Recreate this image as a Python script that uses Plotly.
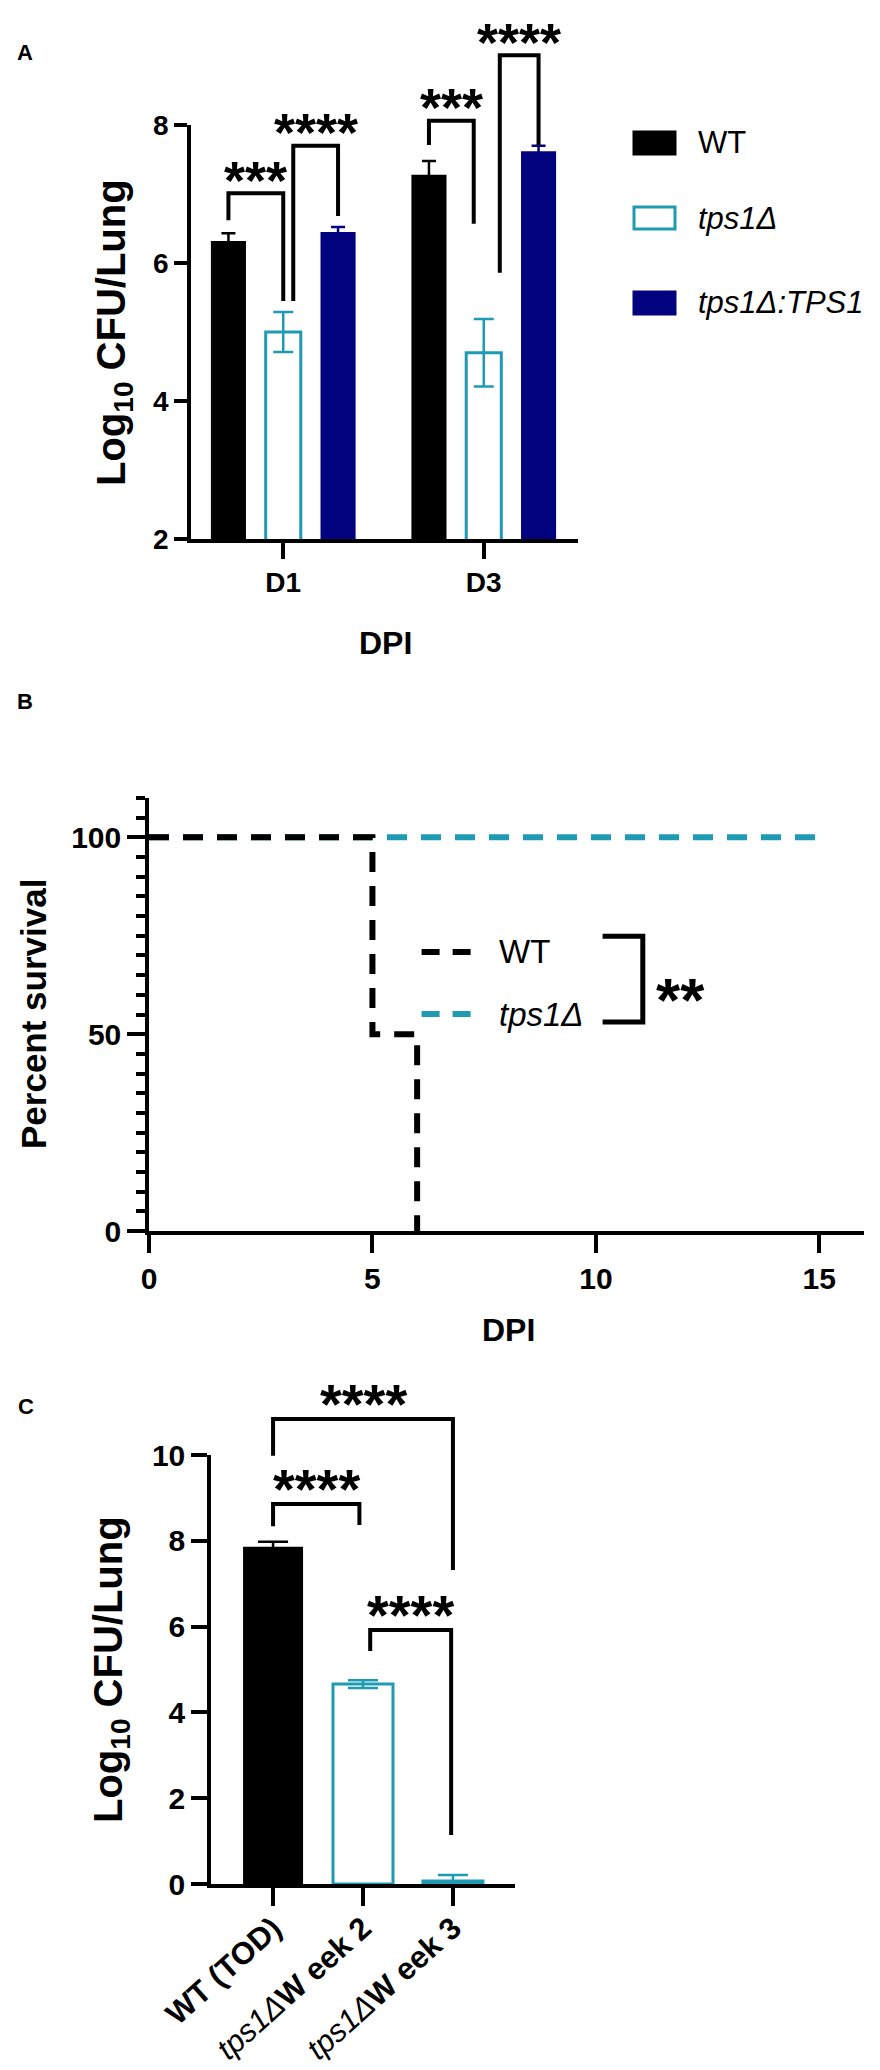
import plotly.graph_objects as go

W, H = 880, 2070
FONT = "Liberation Sans, Arial, Helvetica, sans-serif"
BLACK = "#000000"
TEAL = "#1f9ab3"
NAVY = "#03037f"

# ---- Panel A: lung burden at D1 / D3 ----
a_days = ["D1", "D3"]
a_wt = [6.32, 7.28]
a_wt_err = [0.11, 0.20]
a_tps1 = [5.00, 4.70]
a_tps1_err = [0.29, 0.49]
a_comp = [6.45, 7.62]
a_comp_err = [0.07, 0.08]
a_names = ["WT", "tps1Δ", "tps1Δ:TPS1"]
a_sig = ["***", "****", "***", "****"]

# ---- Panel B: survival ----
b_wt_dpi = [0, 5, 6]
b_wt_surv = [100, 50, 0]
b_tps1_dpi = [0, 15]
b_tps1_surv = [100, 100]
b_sig = "**"

# ---- Panel C: burden at time of death / weeks ----
c_groups = ["WT (TOD)", "tps1Δ Week 2", "tps1Δ Week 3"]
c_ticktext = ["<b>WT (TOD)</b>", "<i>tps1Δ</i><b>W eek 2</b>", "<i>tps1Δ</i><b>W eek 3</b>"]
c_values = [7.86, 4.66, 0.07]
c_err = [0.12, 0.09, 0.14]
c_sig = ["****", "****", "****"]


def px_x(p):
    return p / W


def px_y(p):
    return 1 - p / H


def helper_range(lo, hi, dom, top):
    # same scale as the data axis, stretched up to a higher domain top
    return [lo, lo + (hi - lo) * (top - dom[0]) / (dom[1] - dom[0])]


A_BARGAP = 0.18
A_GROUPGAP = 0.36
slot = (1 - A_BARGAP) / 3

a_xdom = [px_x(183), px_x(570)]
a_ydom = [px_y(531), px_y(117)]
b_xdom = [px_x(141), px_x(856)]
b_ydom = [px_y(1223), px_y(790)]
c_xdom = [px_x(203), px_x(507)]
c_ydom = [px_y(1876), px_y(1447)]

fig = go.Figure()

# Panel A bars
a_x = list(range(len(a_days)))
a_styles = [
    (a_wt, a_wt_err, BLACK, BLACK, 7),
    (a_tps1, a_tps1_err, "white", TEAL, 10),
    (a_comp, a_comp_err, NAVY, NAVY, 7),
]
for name, (vals, errs, fill, edge, cap) in zip(a_names, a_styles):
    fig.add_trace(go.Bar(
        x=a_x, y=vals, name=name, xaxis="x", yaxis="y",
        marker=dict(color=fill, line=dict(color=edge, width=3 if fill == "white" else 0)),
        error_y=dict(type="data", array=errs, color=edge, thickness=2.5, width=cap),
        showlegend=False, hoverinfo="skip"))
fig.add_trace(go.Scatter(x=[0], y=[2], mode="markers", marker=dict(opacity=0), xaxis="x", yaxis="y4",
                         showlegend=False, hoverinfo="skip"))

# Panel B curves (tps1Δ first so WT sits on top)
fig.add_trace(go.Scatter(x=b_tps1_dpi, y=b_tps1_surv, mode="lines", xaxis="x2", yaxis="y2",
                         line=dict(color=TEAL, width=6, dash="20px,14px", shape="hv"),
                         showlegend=False, hoverinfo="skip"))
fig.add_trace(go.Scatter(x=b_wt_dpi, y=b_wt_surv, mode="lines", xaxis="x2", yaxis="y2",
                         line=dict(color=BLACK, width=6, dash="20px,14px", shape="hv"),
                         showlegend=False, hoverinfo="skip"))

# Panel C bars
c_x = list(range(len(c_groups)))
c_fill = [BLACK, "white", "white"]
c_edge = [BLACK, TEAL, TEAL]
for i in c_x:
    fig.add_trace(go.Bar(
        x=[c_x[i]], y=[c_values[i]], name=c_groups[i], xaxis="x3", yaxis="y3",
        width=[0.667], offset=[-0.3335],
        marker=dict(color=c_fill[i], line=dict(color=c_edge[i], width=0 if i == 0 else 3)),
        error_y=dict(type="data", array=[c_err[i]], color=c_edge[i], thickness=2.5, width=15),
        showlegend=False, hoverinfo="skip"))
fig.add_trace(go.Scatter(x=[0], y=[0], mode="markers", marker=dict(opacity=0), xaxis="x3", yaxis="y5",
                         showlegend=False, hoverinfo="skip"))


def axis_style(**kw):
    d = dict(showline=True, linecolor=BLACK, linewidth=3.5, ticks="outside", tickcolor=BLACK,
             tickwidth=3.5, showgrid=False, zeroline=False, fixedrange=True, automargin=False,
             tickfont=dict(family=FONT, size=28, color=BLACK, weight="bold"))
    d.update(kw)
    return d


def helper_axis(**kw):
    d = dict(visible=False, fixedrange=True, automargin=False, showgrid=False, zeroline=False)
    d.update(kw)
    return d


shapes = []
annotations = []


def bracket(xref, yref, x1, x2, y1, ytop, y2, width=4):
    shapes.append(dict(type="path", xref=xref, yref=yref,
                       path=f"M {x1},{y1} L {x1},{ytop} L {x2},{ytop} L {x2},{y2}",
                       line=dict(color=BLACK, width=width)))


def stars(xref, yref, x, y, text, size):
    annotations.append(dict(xref=xref, yref=yref, x=x, y=y, text=text, showarrow=False,
                            xanchor="center", yanchor="middle", yshift=-0.23 * size,
                            font=dict(family=FONT, size=size, color=BLACK, weight="bold")))


def label(x, y, text, size, bold=True, angle=0, xanchor="center", italic=False):
    annotations.append(dict(xref="paper", yref="paper", x=px_x(x), y=px_y(y), text=text,
                            showarrow=False, xanchor=xanchor, yanchor="middle", textangle=angle,
                            borderpad=0,
                            font=dict(family=FONT, size=size, color=BLACK,
                                      weight="bold" if bold else "normal",
                                      style="italic" if italic else "normal")))


def bar_x(group, j):
    return group + (j - 1) * slot


# Panel A significance brackets
a_br = [
    (bar_x(0, 0), bar_x(0, 1), 6.62, 7.01, 5.45),
    (bar_x(0, 1) + 0.05, bar_x(0, 2), 5.45, 7.70, 6.68),
    (bar_x(1, 0), bar_x(1, 1) - 0.05, 7.71, 8.06, 6.57),
    (bar_x(1, 1) + 0.08, bar_x(1, 2), 5.86, 9.01, 7.71),
]
for (x1, x2, y1, yt, y2), s in zip(a_br, a_sig):
    bracket("x", "y4", x1, x2, y1, yt, y2)
    stars("x", "y4", (x1 + x2) / 2, yt + 0.38, s, 54)

# Panel A legend
a_leg_y = [135, 210, 295]
a_leg_fill = [BLACK, "white", NAVY]
a_leg_edge = [BLACK, TEAL, NAVY]
for yy, fill, edge, name in zip(a_leg_y, a_leg_fill, a_leg_edge, a_names):
    shapes.append(dict(type="rect", xref="paper", yref="paper",
                       x0=px_x(626), x1=px_x(667), y0=px_y(yy + 11), y1=px_y(yy - 11),
                       fillcolor=fill, line=dict(color=edge, width=3)))
    label(689, yy, name, 31, bold=False, xanchor="left", italic=(name != "WT"))

# Panel B legend + log-rank bracket
b_leg = [(70.9, BLACK, "WT", False), (55.1, TEAL, "tps1Δ", True)]
for yy, col, name, it in b_leg:
    shapes.append(dict(type="line", xref="x2", yref="y2", x0=6.1, x1=7.2, y0=yy, y1=yy,
                       line=dict(color=col, width=6, dash="18px,13px")))
    annotations.append(dict(xref="x2", yref="y2", x=7.8, y=yy, text=name, showarrow=False,
                            xanchor="left", yanchor="middle", borderpad=0,
                            font=dict(family=FONT, size=33, color=BLACK,
                                      style="italic" if it else "normal")))
shapes.append(dict(type="path", xref="x2", yref="y2",
                   path="M 10.15,74.9 L 11.05,74.9 L 11.05,53.1 L 10.15,53.1",
                   line=dict(color=BLACK, width=5)))
stars("x2", "y2", 11.9, 62.5, b_sig, 62)

# Panel C significance brackets
c_br = [
    (0.0, 2.0, 9.98, 10.84, 7.32),
    (0.0, 0.96, 8.34, 8.86, 8.37),
    (1.08, 1.98, 5.43, 5.92, 1.14),
]
for (x1, x2, y1, yt, y2), s in zip(c_br, c_sig):
    bracket("x3", "y5", x1, x2, y1, yt, y2)
    stars("x3", "y5", (x1 + x2) / 2, yt + 0.66, s, 56)

# Titles and panel letters
label(17, 45, "A", 22)
label(17, 693, "B", 22)
label(18, 1398, "C", 22)
label(106, 325, "Log<sub>10</sub> CFU/Lung", 40, angle=-90)
label(377, 635, "DPI", 32)
label(25, 1006, "Percent survival", 35, angle=-90)
label(500, 1322, "DPI", 32)
label(103, 1662, "Log<sub>10</sub> CFU/Lung", 40, angle=-90)

fig.update_layout(
    template="none",
    width=W, height=H, margin=dict(l=0, r=0, t=0, b=0, autoexpand=False),
    paper_bgcolor="white", plot_bgcolor="rgba(0,0,0,0)",
    font=dict(family=FONT, color=BLACK),
    barmode="group", bargap=A_BARGAP, bargroupgap=A_GROUPGAP, showlegend=False,
    xaxis=axis_style(domain=a_xdom, range=[-0.46, 1.47], anchor="y", tickmode="array",
                     tickvals=a_x, ticktext=a_days, ticklen=16),
    yaxis=axis_style(domain=a_ydom, range=[2, 8], anchor="x", tickmode="array",
                     tickvals=[2, 4, 6, 8], ticklen=13),
    yaxis4=helper_axis(domain=[a_ydom[0], 1.0], range=helper_range(2, 8, a_ydom, 1.0), anchor="x"),
    xaxis2=axis_style(domain=b_xdom, range=[0, 16], anchor="y2", tickmode="linear", dtick=5, tick0=0,
                      ticklen=18, tickfont=dict(family=FONT, size=30, color=BLACK, weight="bold")),
    yaxis2=axis_style(domain=b_ydom, range=[0, 110], anchor="x2", tickmode="linear", dtick=50, tick0=0,
                      ticklen=18, tickfont=dict(family=FONT, size=30, color=BLACK, weight="bold"),
                      minor=dict(dtick=5, tick0=0, ticklen=9, tickwidth=3.5,
                                 tickcolor=BLACK, ticks="outside", showgrid=False)),
    xaxis3=axis_style(domain=c_xdom, range=[-0.69, 2.69], anchor="y3", tickmode="array",
                      tickvals=c_x, ticktext=c_ticktext, tickangle=-42, ticklen=18,
                      ticklabelstandoff=-8,
                      tickfont=dict(family=FONT, size=31, color=BLACK)),
    yaxis3=axis_style(domain=c_ydom, range=[0, 10], anchor="x3", tickmode="linear", dtick=2, tick0=0,
                      ticklen=16, tickfont=dict(family=FONT, size=30, color=BLACK, weight="bold")),
    yaxis5=helper_axis(domain=[c_ydom[0], px_y(1340)], range=helper_range(0, 10, c_ydom, px_y(1340)),
                       anchor="x3"),
    shapes=shapes,
    annotations=annotations,
)

fig.write_html("out.html")
